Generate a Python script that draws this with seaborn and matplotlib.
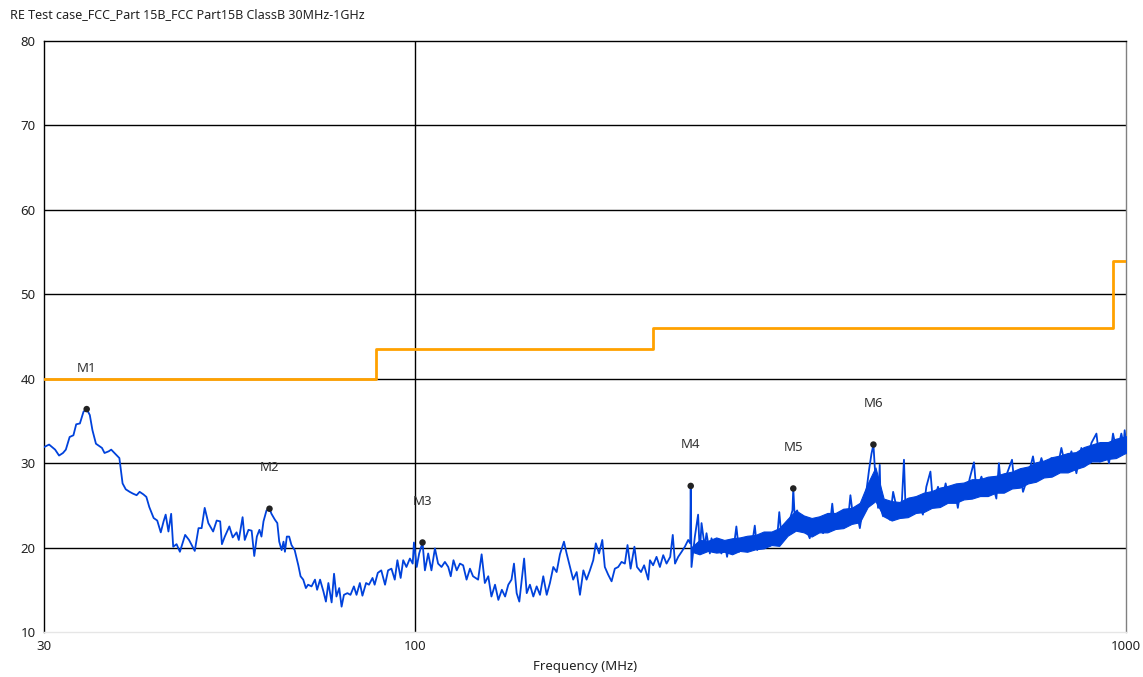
import numpy as np
import pandas as pd
import matplotlib
matplotlib.use("Agg")
import matplotlib.pyplot as plt
import seaborn as sns

# ---- data ----
title = "RE Test case_FCC_Part 15B_FCC Part15B ClassB 30MHz-1GHz"

limit_freq = [30, 88, 216, 960, 1000]
limit_level = [40, 43.5, 46, 54, 54]

marker_names = ["M1", "M2", "M3", "M4", "M5", "M6"]
marker_freq = [34.45, 62.3, 102.3, 244.0, 340.2, 441.1]
marker_level = [36.4, 24.6, 20.6, 27.3, 27.0, 32.2]

# 30 - 100 MHz
freq_low = [30.0, 30.5, 31.1, 31.5, 31.9, 32.2, 32.6, 33.0, 33.3, 33.7,
            34.1, 34.45, 34.8, 35.1, 35.5, 36.2, 36.5, 37.0, 37.3, 37.7,
            38.3, 38.7, 39.1, 39.6, 40.0, 40.5, 40.9, 41.4, 41.8, 42.2,
            42.8, 43.3, 43.8, 44.2, 44.5, 44.9, 45.3, 45.6, 46.1, 46.6,
            47.4, 48.0, 48.9, 49.5, 50.0, 50.5, 51.1, 51.9, 52.5, 53.1,
            53.4, 53.9, 54.7, 55.3, 56.0, 56.4, 57.1, 57.5, 58.2, 58.8,
            59.3, 59.8, 60.3, 60.7, 61.1, 61.7, 62.3, 62.7, 63.4, 63.9,
            64.3, 64.8, 65.2, 65.5, 65.9, 66.4, 66.9, 67.6, 68.4, 68.9,
            69.5, 70.1, 70.6, 71.4, 72.2, 72.7, 73.4, 74.2, 74.8, 75.4,
            76.2, 76.8, 77.4, 78.1, 78.7, 79.3, 80.2, 81.0, 81.9, 82.6,
            83.5, 84.2, 85.2, 86.0, 87.0, 87.6, 88.5, 89.5, 90.6, 91.5,
            92.5, 93.5, 94.3, 95.3, 96.1, 97.1, 98.2, 99.1, 99.5]
level_low = [31.9, 32.2, 31.6, 30.9, 31.2, 31.6, 33.1, 33.3, 34.6, 34.7,
             36.1, 36.4, 35.7, 33.9, 32.3, 31.8, 31.2, 31.4, 31.6, 31.2,
             30.6, 27.6, 26.9, 26.6, 26.4, 26.2, 26.6, 26.3, 26.0, 24.8,
             23.5, 23.2, 21.8, 23.1, 23.9, 21.9, 24.0, 20.1, 20.4, 19.5,
             21.5, 20.9, 19.6, 22.3, 22.3, 24.7, 22.9, 21.9, 23.2, 23.1,
             20.4, 21.3, 22.5, 21.2, 21.8, 20.9, 23.6, 20.9, 22.1, 22.0,
             19.0, 21.3, 22.1, 21.3, 23.1, 24.4, 24.6, 24.0, 23.3, 22.9,
             20.7, 19.7, 20.7, 19.5, 21.3, 21.3, 20.3, 19.7, 17.9, 16.6,
             16.2, 15.2, 15.6, 15.4, 16.2, 15.0, 16.2, 14.8, 13.6, 15.8,
             13.5, 16.9, 14.2, 15.2, 13.0, 14.4, 14.6, 14.4, 15.4, 14.4,
             15.8, 14.3, 15.8, 15.6, 16.4, 15.6, 17.0, 17.3, 15.6, 17.3,
             17.5, 16.2, 18.5, 16.4, 18.5, 17.7, 18.7, 18.1, 20.6]

# 100 - 210 MHz
freq_mid = [100.4, 101.2, 102.3, 103.1, 104.2, 105.3, 106.5, 107.6, 108.8, 110.0,
            111.2, 112.1, 113.1, 114.3, 115.5, 116.7, 118.0, 119.3, 120.5, 122.5,
            123.9, 125.2, 126.6, 127.9, 129.4, 130.8, 132.3, 133.7, 135.1, 136.5,
            137.6, 138.8, 140.0, 141.1, 142.2, 143.4, 144.9, 146.5, 148.1, 149.7,
            151.3, 153.0, 154.6, 156.3, 158.0, 159.7, 161.8, 163.2, 165.0, 166.7,
            168.6, 170.4, 172.3, 174.1, 176.0, 177.9, 179.4, 181.3, 183.2, 184.7,
            186.7, 188.8, 190.8, 192.9, 195.0, 197.1, 198.8, 200.8, 203.3, 205.0,
            207.7, 209.8, 212.6]
level_mid = [17.7, 19.3, 20.6, 17.3, 19.3, 17.3, 19.9, 18.1, 17.7, 18.3,
             17.7, 16.6, 18.5, 17.3, 18.1, 17.9, 16.2, 17.5, 16.6, 16.2,
             19.2, 15.8, 16.6, 14.2, 15.6, 13.8, 15.0, 14.2, 15.6, 16.2,
             18.1, 14.6, 13.6, 16.2, 18.7, 14.6, 15.6, 14.2, 15.4, 14.4,
             16.6, 14.4, 15.8, 17.7, 17.1, 19.2, 20.7, 19.3, 17.7, 16.2,
             17.1, 14.4, 17.3, 16.2, 17.3, 18.5, 20.5, 19.3, 20.9, 17.7,
             16.8, 16.0, 17.5, 17.7, 18.3, 18.1, 20.3, 17.5, 20.1, 17.7,
             17.1, 17.9, 16.2]

# 210 - 1000 MHz
freq_high = [213.8, 216.0, 218.4, 220.8, 223.2, 225.6, 228.3, 230.2, 231.9, 234.3,
             236.9, 239.4, 242.0, 243.6, 244.0, 244.6, 247.3, 249.9, 251.3, 252.7,
             255.3, 256.8, 259.6, 261.0, 263.8, 266.5, 269.5, 272.5, 274.5, 277.0,
             280.0, 282.9, 285.4, 287.6, 290.7, 293.9, 297.1, 300.3, 302.7, 305.3,
             308.6, 311.9, 315.2, 318.7, 322.4, 325.1, 327.6, 331.1, 333.5, 336.4,
             339.3, 340.2, 341.9, 344.5, 347.4, 351.1, 355.1, 358.8, 362.7, 366.6,
             370.6, 374.7, 378.8, 382.9, 386.0, 388.9, 393.3, 397.7, 401.9, 406.3,
             409.4, 412.9, 417.5, 422.1, 426.6, 431.3, 434.9, 438.3, 441.1, 443.0,
             445.5, 447.8, 450.2, 451.6, 455.1, 460.0, 465.1, 470.2, 475.3, 480.4,
             483.8, 487.0, 489.7, 496.3, 501.5, 509.2, 517.8, 523.6, 530.6, 535.1,
             543.8, 549.9, 557.4, 563.9, 573.3, 579.9, 586.6, 596.3, 602.7, 611.0,
             615.7, 626.0, 636.1, 646.6, 657.0, 662.5, 667.7, 678.9, 691.2, 697.3,
             708.6, 716.3, 728.0, 739.8, 748.1, 760.3, 772.7, 785.2, 798.2, 811.1,
             824.1, 837.9, 851.6, 865.4, 879.8, 894.2, 908.7, 918.4, 933.4, 946.6,
             958.9, 971.2, 985.1, 992.5, 995.8, 1000.0]
level_high = [18.5, 17.9, 18.9, 17.7, 19.1, 18.1, 18.9, 21.5, 18.1, 18.9,
              19.5, 20.1, 20.9, 20.5, 27.3, 17.7, 21.3, 23.9, 19.3, 22.9,
              20.1, 21.7, 19.3, 21.1, 19.5, 20.3, 19.3, 20.5, 18.9, 20.9,
              19.5, 22.5, 19.5, 20.5, 19.7, 21.1, 19.9, 22.6, 19.7, 21.3,
              20.1, 21.5, 20.2, 21.7, 20.5, 24.2, 21.1, 21.7, 22.9, 23.3,
              24.4, 27.0, 23.3, 24.4, 22.5, 23.7, 22.1, 21.1, 22.7, 21.7,
              23.3, 21.7, 23.3, 22.5, 25.2, 22.5, 23.7, 22.9, 24.4, 23.3,
              26.2, 23.7, 24.4, 22.3, 24.8, 26.8, 29.2, 31.1, 32.2, 29.6,
              26.6, 24.7, 29.8, 24.7, 23.7, 25.2, 23.3, 26.6, 24.8, 23.7,
              25.6, 30.4, 24.2, 25.8, 24.2, 25.6, 23.9, 27.2, 29.0, 25.2,
              27.2, 25.2, 27.6, 25.6, 27.2, 24.7, 27.4, 26.2, 28.2, 30.1,
              26.8, 28.4, 26.4, 28.0, 25.8, 30.0, 26.8, 28.6, 30.4, 27.2,
              29.0, 26.6, 28.4, 30.8, 28.4, 30.6, 28.6, 30.6, 28.8, 31.8,
              29.2, 31.4, 28.8, 31.8, 30.0, 32.4, 33.5, 30.2, 31.8, 30.0,
              33.5, 31.2, 33.5, 32.2, 33.9, 32.5]

# dense core of the sweep noise above 245 MHz (lower / upper edge)
band_freq = [245, 251, 258, 265, 272, 279, 286, 293, 301, 309, 317, 325, 334,
             343, 352, 361, 370, 380, 390, 400, 411, 422, 433, 444, 456, 468,
             480, 493, 506, 519, 533, 547, 561, 576, 591, 607, 623, 639, 656,
             673, 691, 709, 728, 747, 766, 786, 807, 828, 850, 872, 895, 919,
             943, 968, 993, 1000]
band_lo = [19.5, 19.2, 19.6, 19.4, 19.5, 19.2, 19.6, 19.5, 19.8, 19.9, 20.3,
           20.2, 21.4, 22.0, 21.8, 21.3, 21.8, 21.8, 22.2, 22.3, 22.8, 23.0,
           24.8, 25.5, 23.7, 23.2, 23.5, 23.6, 24.1, 24.2, 24.7, 24.8, 25.3,
           25.3, 25.7, 25.8, 26.1, 26.1, 26.5, 26.5, 27.0, 27.1, 27.6, 27.8,
           28.3, 28.4, 28.9, 28.9, 29.3, 29.6, 30.2, 30.2, 30.5, 30.6, 31.1,
           31.2]
band_hi = [20.1, 20.9, 20.8, 21.2, 20.9, 21.1, 21.2, 21.4, 21.5, 21.9, 21.9,
           22.3, 23.4, 24.4, 23.8, 23.5, 23.7, 24.1, 24.1, 24.6, 24.7, 25.3,
           27.6, 29.5, 25.8, 25.5, 25.4, 25.9, 26.1, 26.5, 26.7, 27.1, 27.3,
           27.6, 27.7, 28.1, 28.1, 28.4, 28.5, 28.8, 29.0, 29.4, 29.6, 30.1,
           30.3, 30.7, 30.9, 31.2, 31.3, 31.9, 32.2, 32.5, 32.5, 32.9, 33.1,
           33.2]

trace = pd.DataFrame({
    "freq": freq_low + freq_mid + freq_high,
    "level": level_low + level_mid + level_high,
})
limit = pd.DataFrame({"freq": limit_freq, "level": limit_level})
markers = pd.DataFrame({"name": marker_names, "freq": marker_freq,
                        "level": marker_level})

# ---- plot ----
sns.set_style("white")
plt.rcParams["font.family"] = ["Noto Sans", "DejaVu Sans"]

blue = "#0042DC"
fig = plt.figure(figsize=(11.43, 6.77), dpi=100)
ax = fig.add_axes([0.0385, 0.0665, 0.9466, 0.8729])

sns.lineplot(data=limit, x="freq", y="level", ax=ax, color="#FFA100",
             linewidth=2, drawstyle="steps-post", estimator=None, zorder=3)
ax.fill_between(band_freq, band_lo, band_hi, color=blue, linewidth=0.8,
                edgecolor=blue, zorder=4)
sns.lineplot(data=trace, x="freq", y="level", ax=ax, color=blue,
             linewidth=1.3, estimator=None, sort=False, zorder=4)
sns.scatterplot(data=markers, x="freq", y="level", ax=ax, color="#222222",
                s=22, edgecolor="none", zorder=5)
for _, m in markers.iterrows():
    ax.text(m["freq"], m["level"] + 4.85, m["name"], ha="center", va="center",
            fontsize=9.5, color="#333333", zorder=6)

ax.set_xscale("log")
ax.set_xlim(30, 1000)
ax.set_ylim(10, 80)
ax.set_xticks([30, 100, 1000])
ax.set_xticklabels(["30", "100", "1000"])
ax.xaxis.set_minor_locator(matplotlib.ticker.NullLocator())
ax.set_yticks(range(10, 81, 10))

for yv in range(20, 80, 10):
    ax.axhline(yv, color="black", linewidth=1, zorder=1)
ax.axvline(100, color="black", linewidth=1, zorder=1)

ax.spines["left"].set_color("black")
ax.spines["top"].set_color("black")
ax.spines["right"].set_color("#808080")
ax.spines["bottom"].set_color("#e6e6e6")
for s in ax.spines.values():
    s.set_linewidth(1)

ax.tick_params(axis="y", direction="out", length=4, width=1, color="black",
               labelsize=9.5, pad=2, labelcolor="#222222")
ax.tick_params(axis="x", direction="out", length=4, width=1, color="#444444",
               labelsize=9.5, pad=2, labelcolor="#222222")

ax.set_xlabel("")
ax.set_ylabel("")
fig.text(0.5118, 0.0148, "Frequency (MHz)", fontsize=9.5, color="#222222",
         ha="center", va="center")
fig.text(0.009, 0.978, title, fontsize=9, color="#222222", va="center")

fig.savefig("out.png", dpi=100)
